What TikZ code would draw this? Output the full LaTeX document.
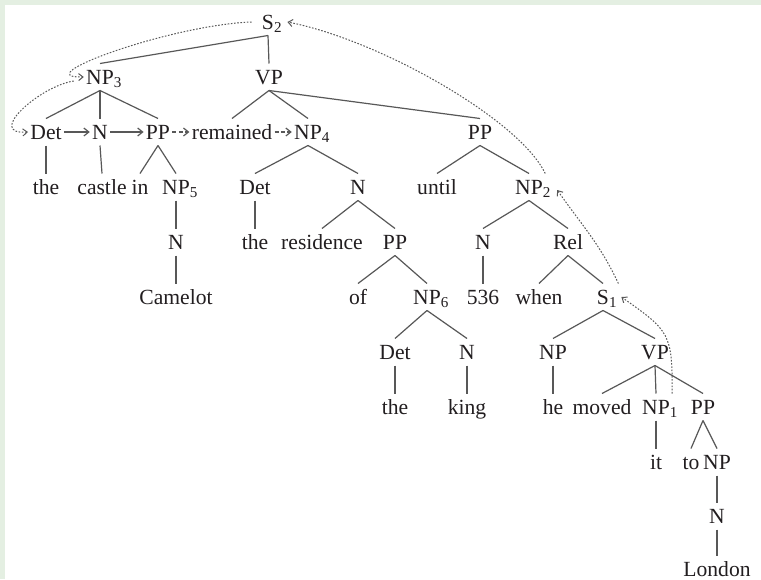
\documentclass[tikz,border=0pt]{standalone}
\usepackage{fontspec}
\setmainfont{Liberation Serif}
\usetikzlibrary{arrows.meta}

\definecolor{ink}{RGB}{34,30,32}
\definecolor{wire}{RGB}{88,88,88}
\definecolor{band}{RGB}{228,239,226}

\begin{document}
\begin{tikzpicture}[x=0.5pt, y=-0.5pt,
    every node/.style={inner xsep=1pt, inner ysep=3pt, text height=7.1pt, text depth=0pt,
      text=ink, font=\fontsize{10.8}{12}\selectfont},
    branch/.style={draw=wire, line width=0.6pt},
    link/.style={draw=wire, line width=0.6pt, -{Straight Barb[length=2.5pt,width=4pt]}},
    hop/.style={draw=wire, line width=0.6pt, dash pattern=on 2pt off 1.2pt,
      -{Straight Barb[length=2.5pt,width=4pt]}},
    trace/.style={draw=wire, line width=0.5pt, dash pattern=on 0.8pt off 0.8pt,
      -{Straight Barb[length=2.2pt,width=3.5pt]}}]
			% Frame of the page
			\fill[band] (0,0) rectangle (761,579);
			\fill[white] (5,5) rectangle (761,579);
			\useasboundingbox (0,0) rectangle (761,579);

			% Labels, one row after the other
			\node (s2) at (268,22) {S\rlap{\textsubscript{2}}};

			\node (np3) at (100,77) {NP\rlap{\textsubscript{3}}};
			\node (vp) at (269,77) {VP};

			\node (detA) at (46,132) {Det};
			\node (nA) at (100,132) {N};
			\node (ppA) at (158,132) {PP};
			\node (remained) at (232,132) {remained};
			\node (np4) at (308,132) {NP\rlap{\textsubscript{4}}};
			\node (ppB) at (480,132) {PP};

			\node (theA) at (46,187) {the};
			\node (castle) at (102,187) {castle};
			\node (inword) at (140,187) {in};
			\node (np5) at (176,187) {NP\rlap{\textsubscript{5}}};
			\node (detB) at (255,187) {Det};
			\node (nB) at (358,187) {N};
			\node (until) at (437,187) {until};
			\node (np2) at (529,187) {NP\rlap{\textsubscript{2}}};

			\node (nC) at (176,242) {N};
			\node (theB) at (255,242) {the};
			\node (residence) at (322,242) {residence};
			\node (ppC) at (395,242) {PP};
			\node (nD) at (483,242) {N};
			\node (rel) at (568,242) {Rel};

			\node (camelot) at (176,297) {Camelot};
			\node (ofword) at (358,297) {of};
			\node (np6) at (427,297) {NP\rlap{\textsubscript{6}}};
			\node (num) at (483,297) {536};
			\node (when) at (539,297) {when};
			\node (s1) at (603,297) {S\rlap{\textsubscript{1}}};

			\node (detE) at (395,352) {Det};
			\node (nE) at (467,352) {N};
			\node (npE) at (553,352) {NP};
			\node (vpE) at (655,352) {VP};

			\node (theE) at (395,407) {the};
			\node (king) at (467,407) {king};
			\node (he) at (553,407) {he};
			\node (moved) at (602,407) {moved};
			\node (np1) at (656,407) {NP\rlap{\textsubscript{1}}};
			\node (ppF) at (703,407) {PP};

			\node (it) at (656,462) {it};
			\node (toword) at (691,462) {to};
			\node (npG) at (717,462) {NP};

			\node (nG) at (717,516) {N};

			\node (london) at (717,569) {London};

			% Draw the branches under S2
			\draw[branch] (s2.south) -- (np3.north);
			\draw[branch] (s2.south) -- (vp.north);

			% NP3 and what hangs below it
			\draw[branch] (np3.south) -- (detA.north);
			\draw[branch] (np3.south) -- (nA.north);
			\draw[branch] (np3.south) -- (ppA.north);
			\draw[branch] (detA.south) -- (theA.north);
			\draw[branch] (nA.south) -- (castle.north);
			\draw[branch] (ppA.south) -- (inword.north);
			\draw[branch] (ppA.south) -- (np5.north);
			\draw[branch] (np5.south) -- (nC.north);
			\draw[branch] (nC.south) -- (camelot.north);

			% VP and what hangs below it
			\draw[branch] (vp.south) -- (remained.north);
			\draw[branch] (vp.south) -- (np4.north);
			\draw[branch] (vp.south) -- (ppB.north);
			\draw[branch] (np4.south) -- (detB.north);
			\draw[branch] (np4.south) -- (nB.north);
			\draw[branch] (detB.south) -- (theB.north);
			\draw[branch] (nB.south) -- (residence.north);
			\draw[branch] (nB.south) -- (ppC.north);
			\draw[branch] (ppC.south) -- (ofword.north);
			\draw[branch] (ppC.south) -- (np6.north);
			\draw[branch] (np6.south) -- (detE.north);
			\draw[branch] (np6.south) -- (nE.north);
			\draw[branch] (detE.south) -- (theE.north);
			\draw[branch] (nE.south) -- (king.north);

			% the until part
			\draw[branch] (ppB.south) -- (until.north);
			\draw[branch] (ppB.south) -- (np2.north);
			\draw[branch] (np2.south) -- (nD.north);
			\draw[branch] (np2.south) -- (rel.north);
			\draw[branch] (nD.south) -- (num.north);
			\draw[branch] (rel.south) -- (when.north);
			\draw[branch] (rel.south) -- (s1.north);
			\draw[branch] (s1.south) -- (npE.north);
			\draw[branch] (s1.south) -- (vpE.north);
			\draw[branch] (npE.south) -- (he.north);
			\draw[branch] (vpE.south) -- (moved.north);
			\draw[branch] (vpE.south) -- (np1.north);
			\draw[branch] (vpE.south) -- (ppF.north);
			\draw[branch] (np1.south) -- (it.north);
			\draw[branch] (ppF.south) -- (toword.north);
			\draw[branch] (ppF.south) -- (npG.north);
			\draw[branch] (npG.south) -- (nG.north);
			\draw[branch] (nG.south) -- (london.north);

			% Arrows along the third row
			\draw[link] (detA.east) -- (nA.west);
			\draw[link] (nA.east) -- (ppA.west);
			\draw[hop] (ppA.east) -- (remained.west);
			\draw[hop] (remained.east) -- (np4.west);

			% Dotted chain NP1 -> S1 -> NP2 -> S2 -> NP3 -> Det
			\draw[trace] (np1.north east) to[out=90, in=-35, looseness=1.4] ([shift={(10,0)}]s1.east);
			\draw[trace] ([shift={(7,0)}]s1.north east) to[out=115, in=-55] ([shift={(12,3)}]np2.east);
			\draw[trace] (np2.north east) .. controls (520,120) and (380,40) .. ([shift={(11,0)}]s2.east);
			\draw[trace] ([shift={(-8,0)}]s2.west) .. controls (170,25) and (25,78) .. (np3.west);
			\draw[trace] ([shift={(-10,4)}]np3.west) .. controls (40,86) and (-15,135) .. (detA.west);

		\end{tikzpicture}
\end{document}
